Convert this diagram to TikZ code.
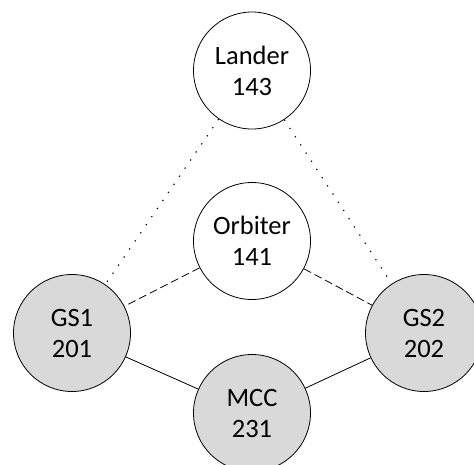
\documentclass[tikz,border=0pt]{standalone}
\usepackage{fontspec}
\setmainfont{Carlito}
\usetikzlibrary{positioning}

\begin{document}
\begin{tikzpicture}[x=1pt, y=-1pt]
        \tikzstyle{station} = [circle, draw, line width=0.8pt, minimum size=117pt, inner sep=0pt, align=center, font=\fontsize{26.5}{31}\selectfont]
        \tikzstyle{ground} = [station, fill={rgb,255:red,217;green,217;blue,217}]
        \tikzstyle{link} = [line width=0.8pt]

        \useasboundingbox (0,0) rectangle (474,464);

        \node (lander) [station] at (252,70.5) {Lander\\143};
        \node (orbiter) [station] at (252,241) {Orbiter\\141};
        \node (gs1) [ground] at (72,333) {GS1\\201};
        \node (gs2) [ground] at (424,333) {GS2\\202};
        \node (mcc) [ground] at (252,413) {MCC\\231};

        \draw [link, line width=1.1pt, dash pattern=on 1.3pt off 8.5pt] (lander) -- (gs1);
        \draw [link, line width=1.1pt, dash pattern=on 1.3pt off 8.5pt] (lander) -- (gs2);
        \draw [link, dash pattern=on 8pt off 4pt] (orbiter) -- (gs1);
        \draw [link, dash pattern=on 8pt off 4pt] (orbiter) -- (gs2);
        \draw [link] (gs1) -- (mcc);
        \draw [link] (mcc) -- (gs2);
    \end{tikzpicture}
\end{document}
